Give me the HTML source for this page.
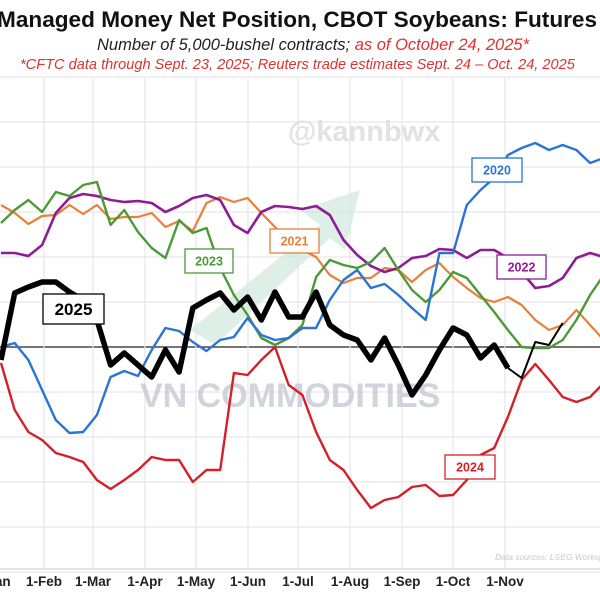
<!DOCTYPE html>
<html><head><meta charset="utf-8"><style>
body{margin:0;background:#fff;}
svg{display:block;font-family:"Liberation Sans",sans-serif;}
</style></head><body>
<svg id="c" width="600" height="600" viewBox="0 0 600 600">
<rect width="600" height="600" fill="#fff"/>
<text x="-3" y="27" font-size="22.6" font-weight="bold" fill="#111">Managed Money Net Position, CBOT Soybeans: Futures Only</text>
<text x="313" y="50" font-size="16.5" font-style="italic" text-anchor="middle" fill="#222">Number of 5,000-bushel contracts; <tspan fill="#e03030">as of October 24, 2025*</tspan></text>
<text x="20" y="69" font-size="14.6" font-style="italic" fill="#e03030">*CFTC data through Sept. 23, 2025; Reuters trade estimates Sept. 24 – Oct. 24, 2025</text>
<g id="grid"></g>
<text x="288" y="141" font-size="29" font-weight="bold" fill="#e2e2e2">@kannbwx</text>
<path d="M190 330 L320 225 L300 210 L360 190 L345 250 L330 238 L215 345 Z" fill="#cfe8dc" opacity="0.7"/>
<text x="140" y="407" font-size="34" font-weight="bold" fill="#c9ccd8" opacity="0.85">VN COMMODITIES</text>
<g id="series"></g>
<g id="labels"></g>
<text x="495" y="560" font-size="8.5" font-style="italic" fill="#c8c8c8">Data sources: LSEG Workspace</text>
</svg>
<script>
const months = ["1-Jan","1-Feb","1-Mar","1-Apr","1-May","1-Jun","1-Jul","1-Aug","1-Sep","1-Oct","1-Nov"];
const monthPos = [-7,44,93,145,196,248,298,350,402,453,505];
const s2020 = [0,4,-13,-43,-73,-86,-85,-68,-30,-24,-29,-3,19,16,5,-4,7,10,29,12,7,9,19,19,47,67,77,59,63,52,39,27,94,94,142,157,169,192,199,204,197,202,197,184,189];
const s2021 = [142,134,123,131,132,142,133,142,128,130,130,134,120,126,116,144,150,145,149,134,120,107,97,90,72,64,69,69,79,77,65,77,84,70,59,49,45,50,42,27,17,22,37,22,7];
const s2022 = [94,94,91,102,134,149,153,151,147,145,146,144,135,141,149,152,147,122,114,135,141,140,138,141,132,107,92,81,75,79,89,91,98,97,89,97,97,89,75,59,61,69,89,94,90];
const s2023 = [124,137,147,135,155,151,162,165,122,137,115,99,89,127,114,119,79,52,32,9,2,9,22,70,87,82,79,85,99,77,57,45,57,75,69,52,35,17,0,-1,-1,7,27,52,72];
const s2024 = [-16,-63,-85,-93,-106,-110,-115,-133,-142,-133,-123,-110,-113,-113,-135,-123,-123,-26,-28,-13,0,-38,-48,-85,-113,-123,-143,-161,-153,-150,-140,-138,-149,-148,-133,-108,-101,-70,-33,-17,-33,-50,-55,-50,-36];
const s2025 = [-13,54,60,65,65,55,47,27,-18,-6,-18,-30,-3,-25,39,47,54,37,50,27,55,30,30,55,22,12,7,-13,9,-18,-48,-28,-3,19,12,-11,2,-21,-31,5,2,24];
const gridVals = [270,225,180,135,90,45,0,-45,-90,-135,-180,-225];
const NS='http://www.w3.org/2000/svg';
function X(i){return 1+13.7*i;}
function Y(v){return 347-v;}
function mk(t,a,p){const e=document.createElementNS(NS,t);for(const k in a)e.setAttribute(k,a[k]);(p||document.getElementById('c')).appendChild(e);return e;}
const g=document.getElementById('grid');
gridVals.forEach(v=>{const l=mk('line',{x1:0,x2:600,y1:Y(v),y2:Y(v),stroke:v===0?'#222':'#e6e6e6','stroke-width':v===0?1.3:1.2},g);

});
monthPos.forEach((x,i)=>{if(i>0){const l=mk('line',{x1:x,x2:x,y1:78,y2:569,stroke:'#e6e6e6','stroke-width':1.2},g);

}
const t=mk('text',{x:x,y:586,'font-size':13.5,'font-weight':'bold','text-anchor':'middle',fill:'#222'},g);t.textContent=months[i];

});
const ax=mk('line',{x1:0,x2:600,y1:569,y2:569,stroke:'#ddd','stroke-width':1.5},g);


const sg=document.getElementById('series');
function line(d,start,col,w,name){const pts=d.map((v,i)=>X(i+start).toFixed(1)+','+Y(v).toFixed(1)).join(' ');
const p=mk('polyline',{points:pts,fill:'none',stroke:col,'stroke-width':w,'stroke-linejoin':'round'},sg);

}
line(s2021,0,'#e8803a',2.2,'series-2021');
line(s2022,0,'#8e1c95',2.6,'series-2022');
line(s2023,0,'#4c9a35',2.4,'series-2023');
line(s2020,0,'#2a74d4',2.4,'series-2020');
line(s2024,0,'#d4202a',2.4,'series-2024');
line(s2025.slice(0,38),0,'#000',5.5,'series-2025');
line(s2025.slice(37),37,'#000',2,'series-2025-est');
const lg=document.getElementById('labels');
function lab(x,y,w,h,txt,col,fs,name){const r=mk('rect',{x:x,y:y,width:w,height:h,fill:'#fff',stroke:col,'stroke-width':1.3},lg);


const t=mk('text',{x:x+w/2,y:y+h/2+fs*0.36,'font-size':fs,'font-weight':'bold','text-anchor':'middle',fill:col},lg);t.textContent=txt;

}
lab(43,294,61,30,'2025','#000',17,'label-2025');
lab(185,249,48,24,'2023','#4c9a35',12.5,'label-2023');
lab(270,229,49,24,'2021','#e8803a',12.5,'label-2021');
lab(472,158,50,24,'2020','#2a74d4',12.5,'label-2020');
lab(497,255,49,24,'2022','#8e1c95',12.5,'label-2022');
lab(445,455,50,24,'2024','#d4202a',12.5,'label-2024');
</script>
</body></html>
